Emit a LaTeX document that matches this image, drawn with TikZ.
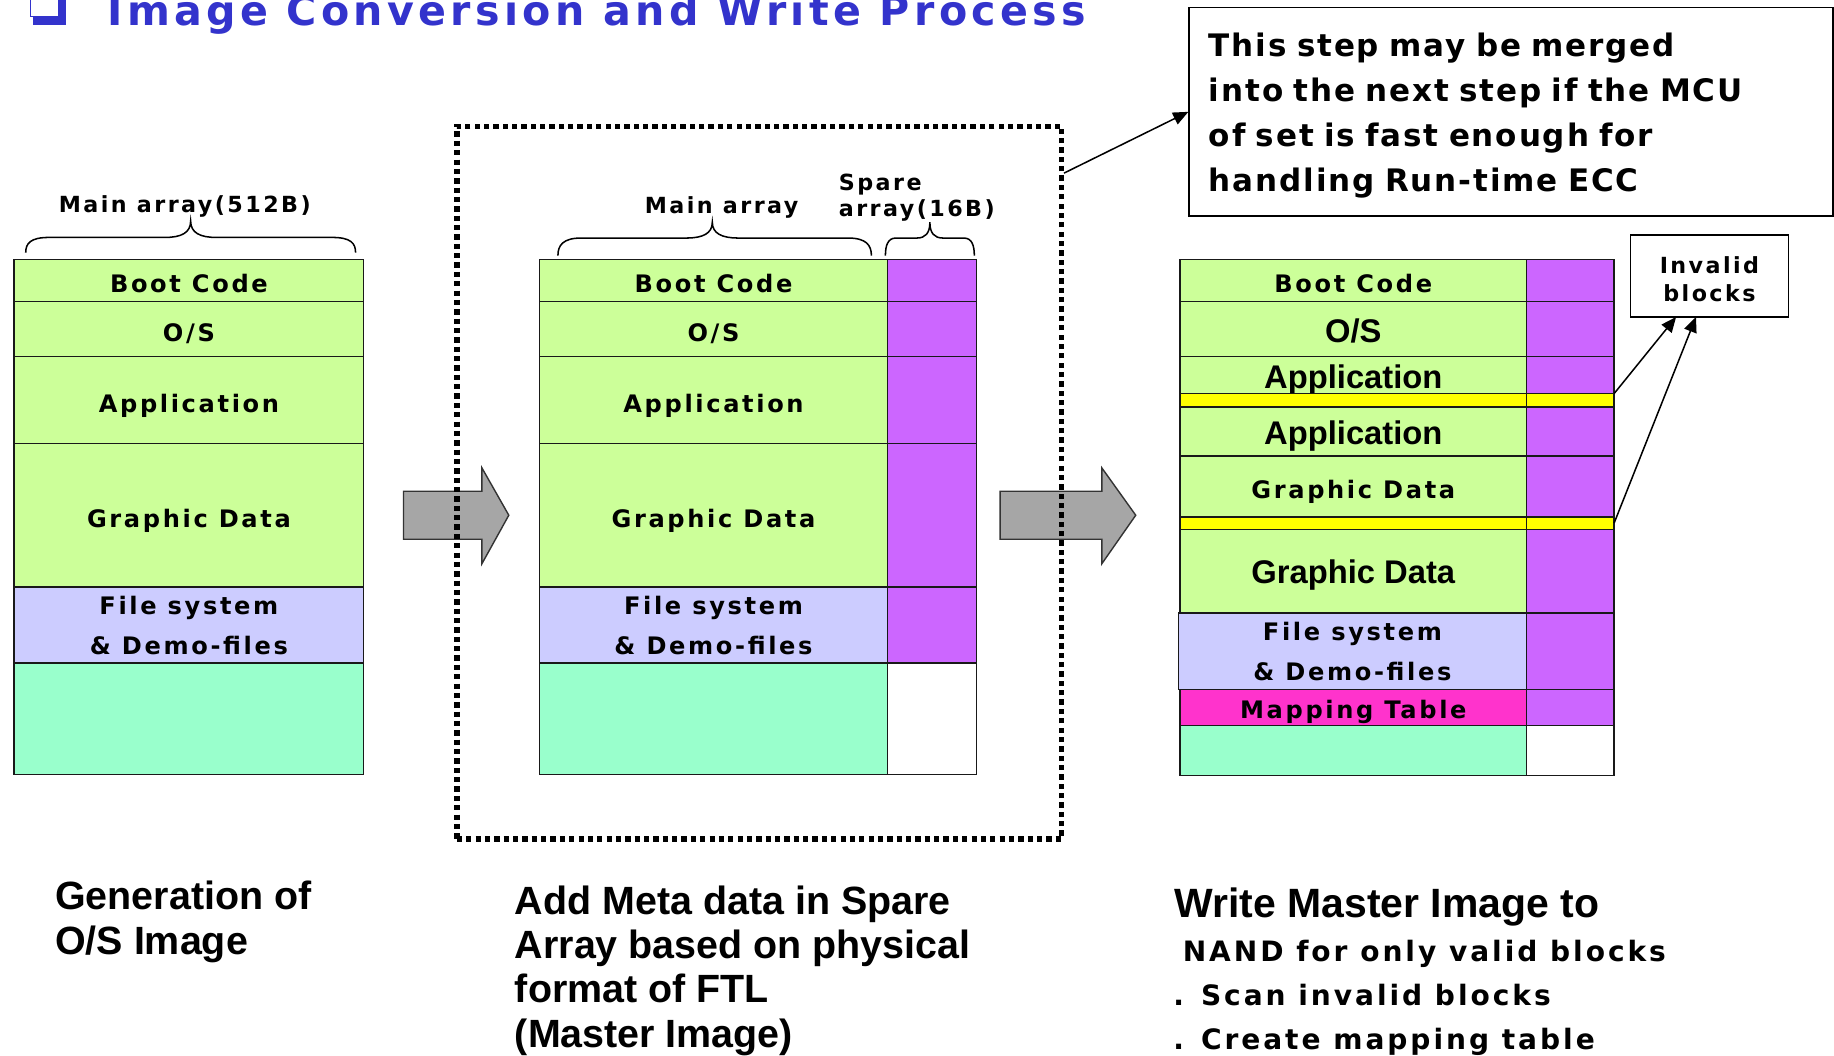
\documentclass[tikz,border=0pt]{standalone}
\usepackage{fontspec}
\usetikzlibrary{arrows.meta,calc}
\newfontfamily\cellfont{DejaVu Sans}[LetterSpace=11]
\newfontfamily\stepfont{DejaVu Sans}[LetterSpace=10.5]
\newfontfamily\notefont{DejaVu Sans}[LetterSpace=6]
\newfontfamily\titlefont{DejaVu Sans}[LetterSpace=10.5]
\newfontfamily\capfont{Liberation Sans}
\definecolor{cgreen}{HTML}{CCFF99}
\definecolor{clav}{HTML}{CCCCFF}
\definecolor{cmint}{HTML}{99FFCC}
\definecolor{cpurple}{HTML}{CC66FF}
\definecolor{cyellow}{HTML}{FFFF00}
\definecolor{cpink}{HTML}{FF33CC}
\definecolor{garrow}{HTML}{A6A6A6}
\definecolor{tblue}{HTML}{3333CC}
\begin{document}
\begin{tikzpicture}[x=1pt,y=-1pt,
  blk/.style={draw=black!90, line width=1.2pt, inner sep=0pt, outer sep=0pt, anchor=north west},
  cell/.style={blk, font={\cellfont\bfseries\fontsize{20.6}{24}\selectfont}, text height=21pt, text depth=0pt},
  bigcell/.style={blk, font={\capfont\bfseries\fontsize{28}{32}\selectfont}, text height=22pt, text depth=0pt},
  fscell/.style={blk, font={\cellfont\bfseries\fontsize{20.6}{34}\selectfont}, align=center},
  lbl/.style={inner sep=0pt, font={\cellfont\bfseries\fontsize{19}{24}\selectfont}},
  captxt/.style={inner sep=0pt, font={\capfont\bfseries\fontsize{33.7}{38}\selectfont}},
  steptxt/.style={inner sep=0pt, font={\stepfont\bfseries\fontsize{24}{37.5}\selectfont}},
  thinarrow/.style={draw=black, line width=1.3pt, -{Triangle[length=13pt,width=11pt]}},
  bigarrow/.style={fill=garrow, draw=black!80, line width=1.2pt},
  bracel/.style={draw=black, line width=1.3pt},
  dotframe/.style={draw=black, line width=4.6pt, dash pattern=on 4.5pt off 3.5pt, inner sep=0pt, outer sep=0pt, anchor=north west}
]
\useasboundingbox (0,0) rectangle (1568,902);
\fill[white] (0,0) rectangle (1568,902);

% ---- title ----
\fill[tblue] (28.5,-10) rectangle (56.4,21.4);
\filldraw[fill=white, draw=tblue, line width=0.8pt] (26,-12) rectangle (50.4,13.7);
\node[inner sep=0pt, anchor=base west, text=tblue, font={\titlefont\bfseries\fontsize{35.2}{40}\selectfont}] (title) at (91.6,21.4) {Image Conversion and Write Process};

% ---- big gray arrows ----
\draw[bigarrow] (345,420) -- (412,420) -- (412,400) -- (435,440.5) -- (412,482) -- (412,461) -- (345,461) -- cycle;
\draw[bigarrow] (855,420) -- (942,420) -- (942,400) -- (971,440.5) -- (942,482) -- (942,461) -- (855,461) -- cycle;

% ---- dotted frame ----
\node[dotframe, minimum width=517.1, minimum height=609.4] (dotbox) at (390.6,108) {};

% ---- left stack ----
\node[cell, fill=cgreen, minimum width=299, minimum height=36] (lboot) at (12,222) {Boot Code};
\node[cell, fill=cgreen, minimum width=299, minimum height=47] (los) at (12,258) {O/S};
\node[cell, fill=cgreen, minimum width=299, minimum height=74] (lapp) at (12,305) {Application};
\node[cell, fill=cgreen, minimum width=299, minimum height=123] (lgd) at (12,379) {Graphic Data};
\node[fscell, fill=clav, minimum width=299, minimum height=65] (lfs) at (12,502) {File system\\\& Demo-files};
\node[blk, fill=cmint, minimum width=299, minimum height=95] (lfree) at (12,567) {};

% ---- middle stack ----
\node[cell, fill=cgreen, minimum width=298, minimum height=36] (mboot) at (461,222) {Boot Code};
\node[cell, fill=cgreen, minimum width=298, minimum height=47] (mos) at (461,258) {O/S};
\node[cell, fill=cgreen, minimum width=298, minimum height=74] (mapp) at (461,305) {Application};
\node[cell, fill=cgreen, minimum width=298, minimum height=123] (mgd) at (461,379) {Graphic Data};
\node[fscell, fill=clav, minimum width=298, minimum height=65] (mfs) at (461,502) {File system\\\& Demo-files};
\node[blk, fill=cmint, minimum width=298, minimum height=95] (mfree) at (461,567) {};
\node[blk, fill=cpurple, minimum width=76, minimum height=36] (ms1) at (759,222) {};
\node[blk, fill=cpurple, minimum width=76, minimum height=47] (ms2) at (759,258) {};
\node[blk, fill=cpurple, minimum width=76, minimum height=74] (ms3) at (759,305) {};
\node[blk, fill=cpurple, minimum width=76, minimum height=123] (ms4) at (759,379) {};
\node[blk, fill=cpurple, minimum width=76, minimum height=65] (ms5) at (759,502) {};
\node[blk, fill=white, minimum width=76, minimum height=95] (ms6) at (759,567) {};

% ---- right stack ----
\node[cell, fill=cgreen, minimum width=296, minimum height=36] (rboot) at (1009,222) {Boot Code};
\node[bigcell, fill=cgreen, minimum width=296, minimum height=47] (ros) at (1009,258) {O/S};
\node[bigcell, fill=cgreen, minimum width=296, minimum height=31.5] (rapp1) at (1009,305) {Application};
\node[blk, fill=cyellow, minimum width=296, minimum height=11.3] (ry1) at (1009,336.5) {};
\node[bigcell, fill=cgreen, minimum width=296, minimum height=42.1] (rapp2) at (1009,347.8) {Application};
\node[cell, fill=cgreen, minimum width=296, minimum height=52] (rgd1) at (1009,389.9) {Graphic Data};
\node[blk, fill=cyellow, minimum width=296, minimum height=10.6] (ry2) at (1009,441.9) {};
\node[bigcell, fill=cgreen, minimum width=296, minimum height=71.5] (rgd2) at (1009,452.5) {Graphic Data};
\node[fscell, fill=clav, minimum width=297.5, minimum height=65.6] (rfs) at (1007.5,524) {File system\\\& Demo-files};
\node[cell, fill=cpink, minimum width=296, minimum height=30.9, text height=19pt] (rmt) at (1009,589.6) {Mapping Table};
\node[blk, fill=cmint, minimum width=296, minimum height=42.5] (rfree) at (1009,620.5) {};
\node[blk, fill=cpurple, minimum width=75, minimum height=36] (rs1) at (1305,222) {};
\node[blk, fill=cpurple, minimum width=75, minimum height=47] (rs2) at (1305,258) {};
\node[blk, fill=cpurple, minimum width=75, minimum height=31.5] (rs3) at (1305,305) {};
\node[blk, fill=cyellow, minimum width=75, minimum height=11.3] (rys1) at (1305,336.5) {};
\node[blk, fill=cpurple, minimum width=75, minimum height=42.1] (rs5) at (1305,347.8) {};
\node[blk, fill=cpurple, minimum width=75, minimum height=52] (rs6) at (1305,389.9) {};
\node[blk, fill=cyellow, minimum width=75, minimum height=10.6] (rys2) at (1305,441.9) {};
\node[blk, fill=cpurple, minimum width=75, minimum height=71.5] (rs8) at (1305,452.5) {};
\node[blk, fill=cpurple, minimum width=75, minimum height=65.6] (rs9) at (1305,524) {};
\node[blk, fill=cpurple, minimum width=75, minimum height=30.9] (rs10) at (1305,589.6) {};
\node[blk, fill=white, minimum width=75, minimum height=42.5] (rs11) at (1305,620.5) {};

% ---- braces and their labels ----
\draw[bracel] (22,216) .. controls (22,208) and (26,203) .. (42,203) -- (141,203) .. controls (155,203) and (163,199) .. (163,189) .. controls (163,199) and (171,203) .. (185,203) -- (284,203) .. controls (300,203) and (304,208) .. (304,216);
\draw[bracel] (477,218.5) .. controls (477,210) and (481,203.5) .. (497,203.5) -- (587,203.5) .. controls (601,203.5) and (609,199.5) .. (609,190) .. controls (609,199.5) and (617,203.5) .. (631,203.5) -- (725,203.5) .. controls (741,203.5) and (745,210) .. (745,218.5);
\draw[bracel] (757,218.5) .. controls (757,210) and (759,203.5) .. (766,203.5) -- (784,203.5) .. controls (791,203.5) and (795,199.5) .. (795,190) .. controls (795,199.5) and (799,203.5) .. (806,203.5) -- (824,203.5) .. controls (831,203.5) and (833,210) .. (833,218.5);
\node[lbl, anchor=base] (lmain) at (158,182) {Main array(512B)};
\node[lbl, anchor=base] (mmain) at (617,182.5) {Main array};
\node[lbl, anchor=base west] (mspare) at (717,163) {Spare};
\node[lbl, anchor=base west] (mspare2) at (717,185) {array(16B)};

% ---- invalid blocks ----
\node[blk, draw=black, fill=white, minimum width=135, minimum height=70, align=center, font={\cellfont\bfseries\fontsize{19}{24}\selectfont}] (inv) at (1394,201) {\rule{0pt}{20pt}Invalid\\blocks};
\coordinate (inv1) at ($(inv.south west)+(39,0)$);
\coordinate (inv2) at ($(inv.south west)+(56,0)$);
\draw[thinarrow] (rys1.north east) -- (inv1);
\draw[thinarrow] (rys2.east) -- (inv2);

% ---- note ----
\node[draw=black, line width=1.2pt, anchor=north west, minimum width=550.5, minimum height=178, text width=516.5, align=left, inner xsep=17pt, inner ysep=0pt, font={\notefont\bfseries\fontsize{26.5}{38.5}\selectfont}] (note) at (1016,6) {\rule{0pt}{26pt}This step may be merged\\into the next step if the MCU\\of set is fast enough for\\handling Run-time ECC};
\coordinate (dotout) at ($(dotbox.north east)+(2,40)$);
\draw[thinarrow] (dotout) -- (note.west);

% ---- captions ----
\node[captxt, anchor=base west] (capA) at (47,778) {\begin{tabular}[t]{@{}l@{}}Generation of\\O/S Image\end{tabular}};
\node[captxt, anchor=base west] (capB) at (440,781.5) {\begin{tabular}[t]{@{}l@{}}Add Meta data in Spare\\Array based on physical\\format of FTL\\(Master Image)\end{tabular}};
\node[captxt, anchor=base west, font={\capfont\bfseries\fontsize{35}{38}\selectfont}] (capC) at (1004,784) {Write Master Image to};
\node[steptxt, anchor=base west] (capD) at (1003,822) {\begin{tabular}[t]{@{}l@{}}\hspace*{8pt}NAND for only valid blocks\\. Scan invalid blocks\\. Create mapping table\end{tabular}};
\end{tikzpicture}
\end{document}
